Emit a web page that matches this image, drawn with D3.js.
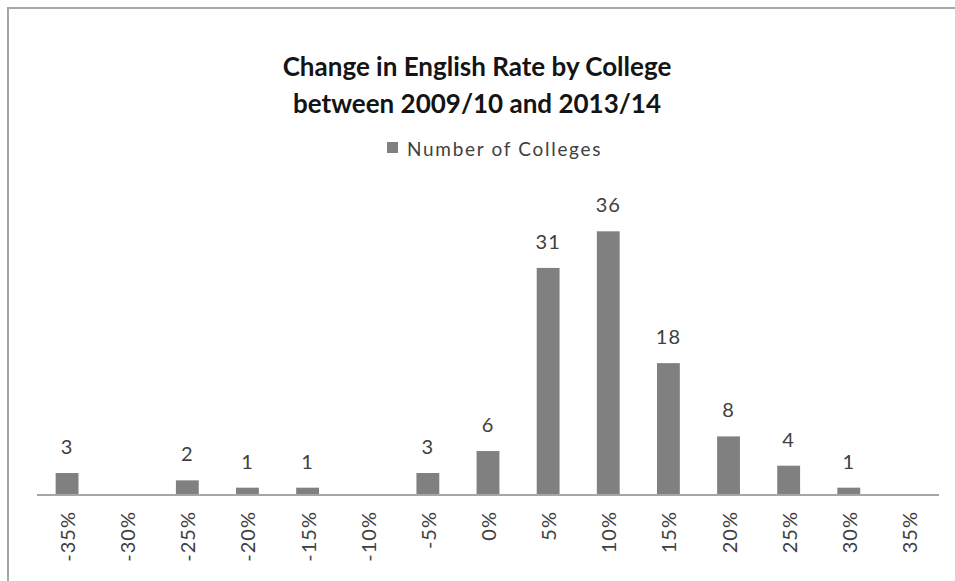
<!DOCTYPE html>
<html>
<head>
<meta charset="utf-8">
<script src="https://cdn.jsdelivr.net/npm/d3@7/dist/d3.min.js"></script>
<style>
  html, body { margin: 0; padding: 0; background: #fff; }
  svg { display: block; }
  text { font-family: Lato, "Open Sans", sans-serif; }
</style>
</head>
<body>
<div id="chart"></div>
<script>
// Histogram of college-level change in English rate
const categories = ["-35%", "-30%", "-25%", "-20%", "-15%", "-10%", "-5%", "0%",
                    "5%", "10%", "15%", "20%", "25%", "30%", "35%"];
const counts = [3, 0, 2, 1, 1, 0, 3, 6, 31, 36, 18, 8, 4, 1, 0];
const seriesName = "Number of Colleges";
const titleLines = ["Change in English Rate by College", "between 2009/10 and 2013/14"];

const W = 955, H = 581;
const svg = d3.select("#chart").append("svg")
  .attr("width", W).attr("height", H);

// chart frame
svg.append("rect")
  .attr("x", 8).attr("y", 8)
  .attr("width", W + 10).attr("height", H + 10)
  .attr("fill", "#fff")
  .attr("stroke", "#a6a6a6").attr("stroke-width", 2);

const plot = { left: 37, right: 939, top: 202, bottom: 495 };

const x = d3.scaleBand()
  .domain(categories)
  .range([plot.left, plot.right])
  .paddingInner(0.62)
  .paddingOuter(0.31);

const y = d3.scaleLinear()
  .domain([0, 40])
  .range([plot.bottom, plot.top]);

// title
svg.append("g").selectAll("text")
  .data(titleLines)
  .join("text")
  .attr("x", 477)
  .attr("y", (d, i) => 76 + i * 37)
  .attr("text-anchor", "middle")
  .attr("font-size", 26)
  .attr("font-weight", "bold")
  .attr("fill", "#141414")
  .text(d => d);

// legend
const legend = svg.append("g");
legend.append("rect")
  .attr("x", 387).attr("y", 142)
  .attr("width", 11).attr("height", 11)
  .attr("fill", "#808080");
legend.append("text")
  .attr("x", 407).attr("y", 156)
  .attr("font-size", 19)
  .attr("letter-spacing", 1.7)
  .attr("fill", "#404040")
  .text(seriesName);

const data = categories.map((c, i) => ({ c, v: counts[i] })).filter(d => d.v > 0);

// bars
svg.append("g").selectAll("rect")
  .data(data)
  .join("rect")
  .attr("x", d => x(d.c))
  .attr("width", x.bandwidth())
  .attr("y", d => y(d.v))
  .attr("height", d => y(0) - y(d.v))
  .attr("fill", "#808080");

// data labels
svg.append("g").selectAll("text")
  .data(data)
  .join("text")
  .attr("x", d => x(d.c) + x.bandwidth() / 2)
  .attr("y", d => y(d.v) - 19)
  .attr("text-anchor", "middle")
  .attr("font-size", 20)
  .attr("letter-spacing", 1)
  .attr("fill", "#404040")
  .text(d => d.v);

// category axis
const axis = d3.axisBottom(x).tickSize(0).tickPadding(0);
const gx = svg.append("g")
  .attr("transform", `translate(0,${plot.bottom})`)
  .call(axis);
gx.select(".domain")
  .attr("stroke", "#a6a6a6")
  .attr("stroke-width", 2)
  .attr("d", `M${plot.left},0H${plot.right}`);
gx.selectAll(".tick text")
  .attr("font-family", "Lato, sans-serif")
  .attr("font-size", 20)
  .attr("letter-spacing", 1)
  .attr("fill", "#404040")
  .attr("text-anchor", "end")
  .attr("dy", null)
  .attr("dominant-baseline", "central")
  .attr("transform", "translate(0,16) rotate(-90)")
  .attr("y", 0)
  .attr("x", 0);
</script>
</body>
</html>
